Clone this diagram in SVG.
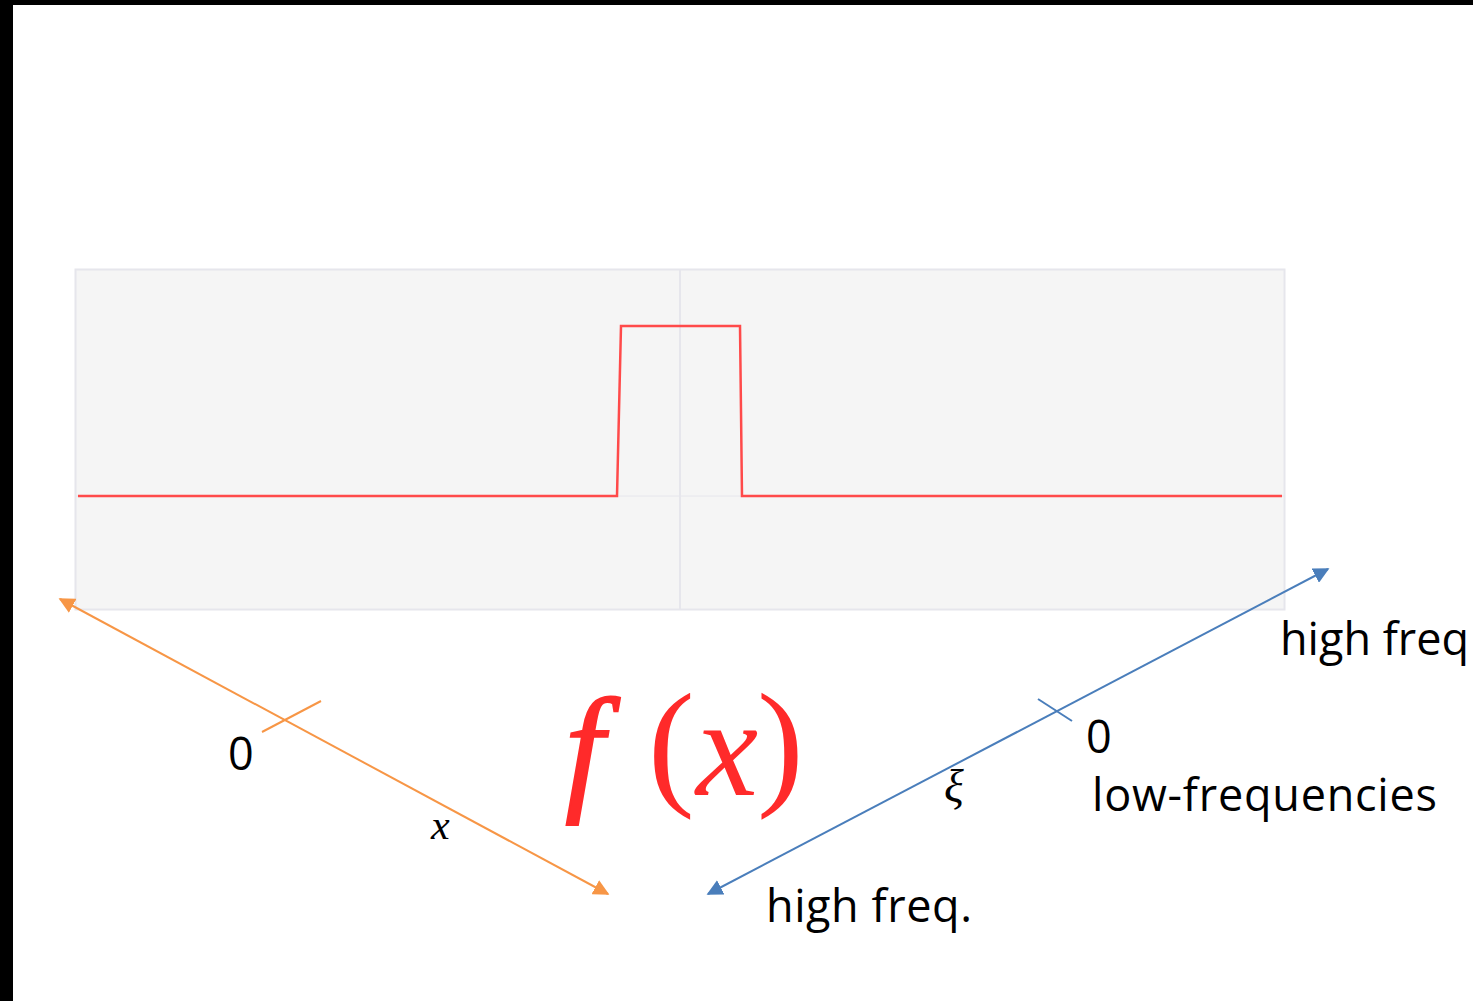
<svg xmlns="http://www.w3.org/2000/svg" width="1473" height="1001" viewBox="0 0 1473 1001">
<style>
.lbl{font-family:"Open Sans","Liberation Sans",sans-serif;font-size:45px;fill:#000}
.math{font-family:"Liberation Serif","DejaVu Serif",serif;font-style:italic;fill:#000}
.fx{font-family:"Liberation Serif","DejaVu Serif",serif;fill:#ff2a2a;font-size:140px}
</style>
<defs>
<marker id="ao" viewBox="0 0 10 10" refX="9" refY="5" markerWidth="8" markerHeight="8" orient="auto-start-reverse"><path d="M0,0 L10,5 L0,10 z" fill="#f79646"/></marker>
<marker id="ab" viewBox="0 0 10 10" refX="9" refY="5" markerWidth="8" markerHeight="8" orient="auto-start-reverse"><path d="M0,0 L10,5 L0,10 z" fill="#4a7ebb"/></marker>
</defs>
<rect x="0" y="0" width="1473" height="1001" fill="#fff"/>
<rect x="0" y="0" width="1473" height="5" fill="#000"/>
<rect x="0" y="0" width="13" height="1001" fill="#000"/>
<g id="plot">
<rect x="75.5" y="269.5" width="1209" height="340" fill="#f5f5f5" stroke="#e6e6ec" stroke-width="2"/>
<line x1="680" y1="270" x2="680" y2="609" stroke="#e6e6ec" stroke-width="2"/>
<line x1="76" y1="496" x2="1284" y2="496" stroke="#e6e6ec" stroke-width="1"/>
<polyline points="78,496 617,496 621,326 740,326 742,496 1282,496" fill="none" stroke="#ff4a4a" stroke-width="2.5"/>
</g>
<g id="connectors">
<line x1="60" y1="599" x2="608" y2="894" stroke="#f79646" stroke-width="2" marker-start="url(#ao)" marker-end="url(#ao)"/>
<line x1="262" y1="732" x2="321" y2="701" stroke="#f79646" stroke-width="2"/>
<line x1="1328" y1="569" x2="708" y2="894" stroke="#4a7ebb" stroke-width="2" marker-start="url(#ab)" marker-end="url(#ab)"/>
<line x1="1038" y1="699" x2="1072" y2="721" stroke="#4a7ebb" stroke-width="2"/>
</g>
<g id="labels">
<text class="lbl" x="228" y="770">0</text>
<text class="math" x="431" y="839" font-size="42">x</text>
<text class="math" x="944" y="802" font-size="46">ξ</text>
<text class="lbl" x="1086" y="753">0</text>
<text class="lbl" x="1092" y="811" textLength="345">low-frequencies</text>
<text class="lbl" x="1280" y="655">high freq</text>
<text class="lbl" x="766" y="922" textLength="206">high freq.</text>
</g>
<g id="fx">
<text class="fx" x="565" y="795" font-style="italic" stroke="#ff2a2a" stroke-width="2">f</text>
<text class="fx" x="648" y="790">(</text>
<text class="fx" x="696" y="795" font-style="italic">x</text>
<text class="fx" x="757" y="790">)</text>
</g>
</svg>
